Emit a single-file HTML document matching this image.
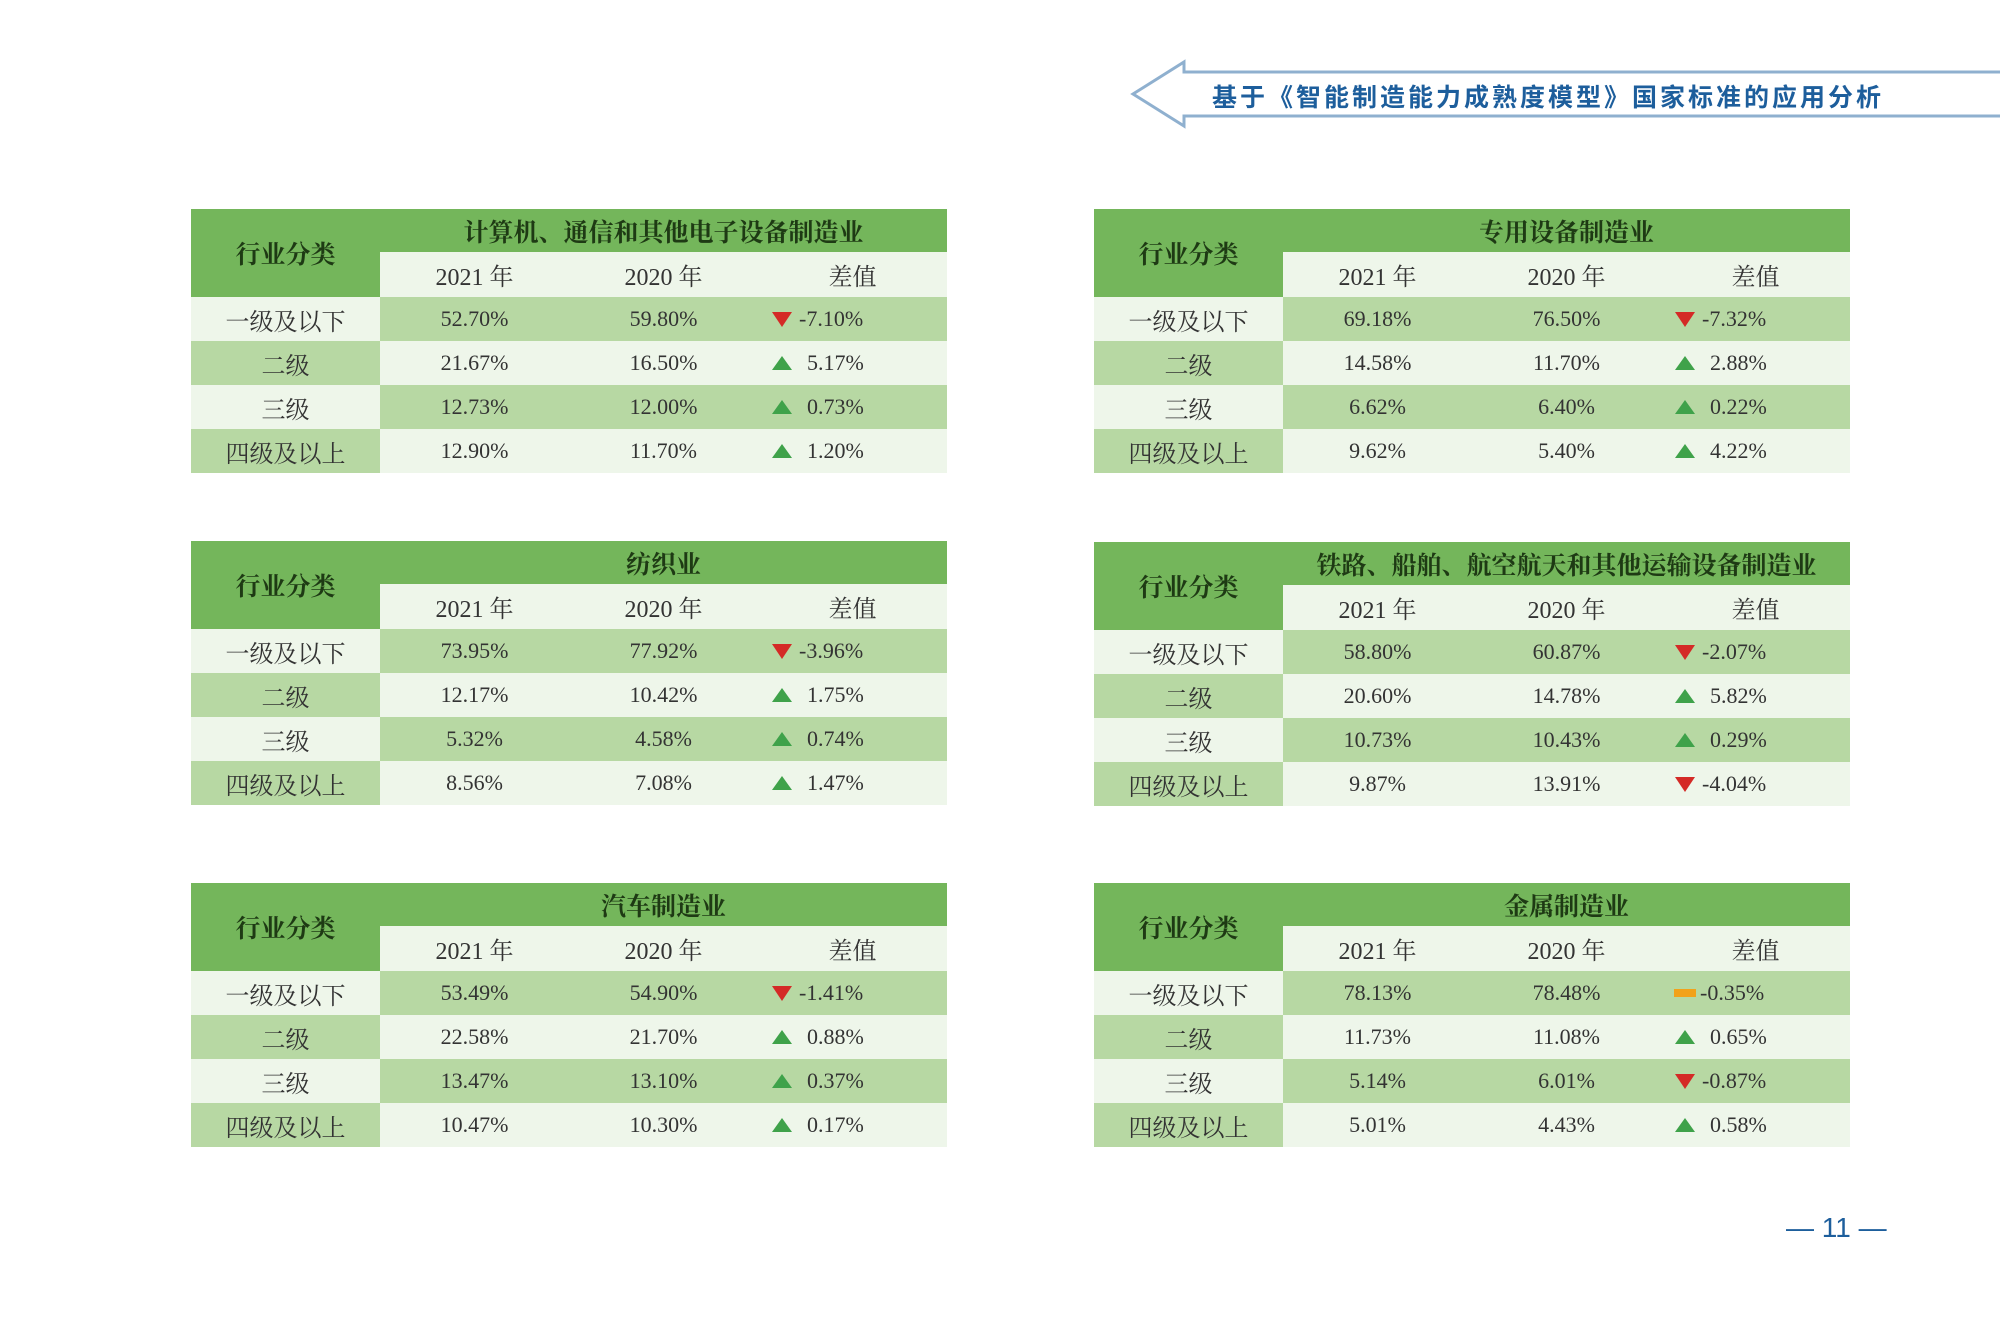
<!DOCTYPE html>
<html><head><meta charset="utf-8">
<style>
html,body{margin:0;padding:0;}
body{width:2000px;height:1333px;background:#fff;position:relative;overflow:hidden;font-family:"Liberation Serif","Noto Serif CJK SC",serif;}
.tbl{position:absolute;width:756px;}
.cell{position:absolute;display:flex;align-items:center;justify-content:center;font-size:22px;color:#333;box-sizing:border-box;}
.title{font-weight:bold;font-size:25px;color:#1e3a14;}
.hdr{font-weight:bold;font-size:25px;color:#1e3a14;}
#hdr-text{position:absolute;left:1212px;top:78px;font-family:"Liberation Sans","Noto Sans CJK SC",sans-serif;font-size:25px;letter-spacing:3px;font-weight:bold;color:#1d5e9c;}
#pagenum{position:absolute;left:1786px;top:1212px;font-family:"Liberation Sans",sans-serif;font-size:28px;color:#1d5e9c;}
</style></head>
<body>
<svg style="position:absolute;left:0;top:0" width="2000" height="140">
<path d="M2000 72 L1184 72 L1184 62 L1133 94 L1184 126 L1184 116 L2000 116" fill="#fff" stroke="#8fb0cf" stroke-width="3"/>
</svg>
<div id="hdr-text">基于《智能制造能力成熟度模型》国家标准的应用分析</div>
<div id="pagenum">— 11 —</div>
<div id="root"></div>
<script>
const titles=["计算机、通信和其他电子设备制造业","专用设备制造业","纺织业","铁路、船舶、航空航天和其他运输设备制造业","汽车制造业","金属制造业"];
const levels=["一级及以下","二级","三级","四级及以上"];
const v2021=[[52.70,21.67,12.73,12.90],[69.18,14.58,6.62,9.62],[73.95,12.17,5.32,8.56],[58.80,20.60,10.73,9.87],[53.49,22.58,13.47,10.47],[78.13,11.73,5.14,5.01]];
const v2020=[[59.80,16.50,12.00,11.70],[76.50,11.70,6.40,5.40],[77.92,10.42,4.58,7.08],[60.87,14.78,10.43,13.91],[54.90,21.70,13.10,10.30],[78.48,11.08,6.01,4.43]];
const diffs=[[-7.10,5.17,0.73,1.20],[-7.32,2.88,0.22,4.22],[-3.96,1.75,0.74,1.47],[-2.07,5.82,0.29,-4.04],[-1.41,0.88,0.37,0.17],[-0.35,0.65,-0.87,0.58]];
const flat=[[0,0,0,0],[0,0,0,0],[0,0,0,0],[0,0,0,0],[0,0,0,0],[1,0,0,0]];
const pos=[[191,209],[1094,209],[191,541],[1094,542],[191,883],[1094,883]];
const DARK="#74b65b",MID="#b7d8a3",LIGHT="#eef6ea";
const root=document.getElementById('root');
function cell(parent,x,y,w,h,bg,cls,html){const d=document.createElement('div');d.className='cell '+(cls||'');d.style.cssText=`left:${x}px;top:${y}px;width:${w}px;height:${h}px;background:${bg}`;d.innerHTML=html;parent.appendChild(d);return d;}
titles.forEach((t,i)=>{
 const tb=document.createElement('div');tb.className='tbl';
 
 
 tb.style.left=pos[i][0]+'px';tb.style.top=pos[i][1]+'px';
 root.appendChild(tb);
 const L=189,cw=189,th=43,hh=45,rh=44;
 let c=cell(tb,0,0,L,th+hh,DARK,'hdr','行业分类');
 
 
 c=cell(tb,L,0,cw*3,th,DARK,'title',t);
 
 
 ["2021 年","2020 年","差值"].forEach((h,k)=>{c=cell(tb,L+k*cw,th,cw,hh,LIGHT,'',h);c.style.fontSize='24px';
  
  });
 levels.forEach((lv,r)=>{
  const y=th+hh+r*rh;const odd=r%2==0;
  const lb=odd?LIGHT:MID,db=odd?MID:LIGHT;
  c=cell(tb,0,y,L,rh,lb,'',lv);c.style.fontSize='24px';
  
  
  c=cell(tb,L,y,cw,rh,db,'',v2021[i][r].toFixed(2)+'%');
  
  
  c=cell(tb,L+cw,y,cw,rh,db,'',v2020[i][r].toFixed(2)+'%');
  
  
  const d=diffs[i][r];
  let icon;
  if(flat[i][r]) icon='<span style="display:inline-block;width:22px;height:8px;background:#f2a21a;margin-right:4px"></span>';
  else if(d<0) icon='<svg width="22" height="18" style="margin-right:6px"><polygon points="1,2 21,2 11,17" fill="#d42a26"/></svg>';
  else icon='<svg width="22" height="18" style="margin-right:14px"><polygon points="1,16 21,16 11,2" fill="#3fa24a"/></svg>';
  c=cell(tb,L+2*cw,y,cw,rh,db,'',icon+'<span>'+d.toFixed(2)+'%</span>');
  c.style.justifyContent='flex-start';c.style.paddingLeft='13px';
  
  
 });
});
</script>
</body></html>
